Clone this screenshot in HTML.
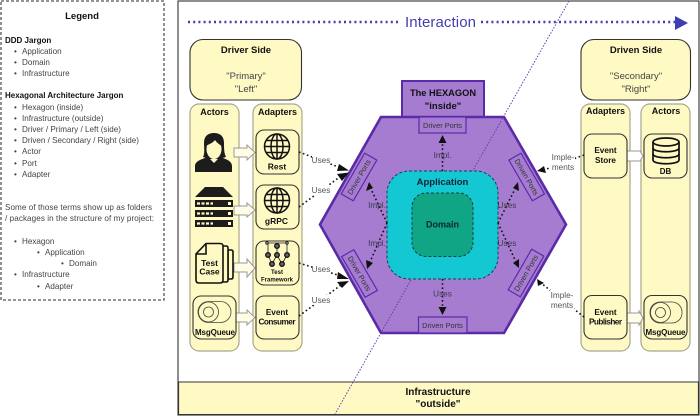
<!DOCTYPE html>
<html><head><meta charset="utf-8"><style>
html,body{margin:0;padding:0;background:#fff}
svg{display:block}
text{font-family:"Liberation Sans",sans-serif;fill:#333}
.b{font-weight:bold;fill:#111}
.l{font-size:8.1px;fill:#444}
.g{font-size:8.2px;fill:#555;text-anchor:middle}
.p{font-size:7.4px;fill:#333;text-anchor:middle}
.m{text-anchor:middle}
.y{fill:#fff9c4;stroke:#a8a890;stroke-width:1.2}
.k{fill:#fff9c4;stroke:#333;stroke-width:1.1}
.d{fill:none;stroke:#111;stroke-width:1.6;stroke-dasharray:1.6 2.6}
.ar{fill:#111}
.o{fill:#fffde6;stroke:#999;stroke-width:1}
.pb{fill:#a67cd0;stroke:#5a2ba8;stroke-width:1.2}
.gl{fill:none;stroke:#111;stroke-width:1.5}
</style></head><body>
<svg width="700" height="416" viewBox="0 0 700 416" xmlns="http://www.w3.org/2000/svg">
<rect width="700" height="416" fill="#fff"/>
<!-- Legend -->
<rect x="1" y="1" width="163" height="299" fill="#fff" stroke="#555" stroke-width="1.3" stroke-dasharray="3 2"/>
<text x="82" y="19" class="b m" font-size="9.5">Legend</text>
<text x="5" y="43" class="b" font-size="8">DDD Jargon</text>
<text x="5" y="98" class="b" font-size="8">Hexagonal Architecture Jargon</text>
<text x="14" y="54" class="l">•</text><text x="22" y="54" class="l">Application</text>
<text x="14" y="65" class="l">•</text><text x="22" y="65" class="l">Domain</text>
<text x="14" y="76" class="l">•</text><text x="22" y="76" class="l">Infrastructure</text>
<text x="14" y="110" class="l">•</text><text x="22" y="110" class="l">Hexagon (inside)</text>
<text x="14" y="121" class="l">•</text><text x="22" y="121" class="l">Infrastructure (outside)</text>
<text x="14" y="132" class="l">•</text><text x="22" y="132" class="l">Driver / Primary / Left (side)</text>
<text x="14" y="143" class="l">•</text><text x="22" y="143" class="l">Driven / Secondary / Right (side)</text>
<text x="14" y="154" class="l">•</text><text x="22" y="154" class="l">Actor</text>
<text x="14" y="166" class="l">•</text><text x="22" y="166" class="l">Port</text>
<text x="14" y="177" class="l">•</text><text x="22" y="177" class="l">Adapter</text>
<text x="5" y="210" class="l" textLength="147">Some of those terms show up as folders</text>
<text x="5" y="221" class="l" textLength="149">/ packages in the structure of my project:</text>
<text x="14" y="244" class="l">•</text><text x="22" y="244" class="l">Hexagon</text>
<text x="37" y="255" class="l">•</text><text x="45" y="255" class="l">Application</text>
<text x="61" y="266" class="l">•</text><text x="69" y="266" class="l">Domain</text>
<text x="14" y="277" class="l">•</text><text x="22" y="277" class="l">Infrastructure</text>
<text x="37" y="289" class="l">•</text><text x="45" y="289" class="l">Adapter</text>
<!-- Frame -->
<rect x="178" y="1" width="521" height="414" fill="#fff" stroke="#444" stroke-width="1.2"/>
<rect x="178.600" y="382" width="519.800" height="32.500" fill="#fff9c4" stroke="#333" stroke-width="1"/>
<text x="438" y="395" class="b m" font-size="10">Infrastructure</text>
<text x="438" y="407" class="b m" font-size="10">"outside"</text>
<!-- Interaction -->
<line x1="188" y1="22" x2="400" y2="22" stroke="#3f3fb0" stroke-width="2.4" stroke-dasharray="2 3.2"/>
<text x="405" y="27" font-size="15" style="fill:#3f3fb0" textLength="71">Interaction</text>
<line x1="481" y1="22" x2="676" y2="22" stroke="#3f3fb0" stroke-width="2.4" stroke-dasharray="2 3.2"/>
<polygon points="675,16 688,23 675,30" fill="#3f3fb0"/>
<!-- Driver side -->
<rect x="190" y="39.500" width="111.500" height="60.500" rx="13" fill="#fff9c4" stroke="#333" stroke-width="1.100"/>
<text x="246" y="53" class="b m" font-size="9.500">Driver Side</text>
<text x="246" y="79" class="m" font-size="9.500" style="fill:#444">"Primary"</text>
<text x="246" y="92" class="m" font-size="9.500" style="fill:#444">"Left"</text>
<rect x="190" y="104" width="49" height="247" rx="9" class="y"/>
<rect x="253" y="104" width="49" height="247" rx="9" class="y"/>
<text x="214.500" y="115" class="b m" font-size="9">Actors</text>
<text x="277.500" y="115" class="b m" font-size="9">Adapters</text>
<!-- driver arrows -->
<g class="o">
<polygon points="234,148 247,148 247,145 255,152.500 247,160 247,157 234,157"/>
<polygon points="234,206 247,206 247,203 255,210 247,217 247,215 234,215"/>
<polygon points="234,263 247,263 247,259 255,268 247,277 247,272 234,272"/>
<polygon points="234,313 247,313 247,310 255,317.500 247,325 247,322 234,322"/>
</g>
<!-- person -->
<path d="M195,172 L195,166 C195,161 202,159 208,157 L214,163 L220,157 C226,159 232,161 232,166 L232,172 Z" fill="#1c1c1c"/>
<path d="M203,157 C205,153 204,148 204,143 C204,136 208,133 214,133 C220,133 224,136 224,143 C224,148 224,153 226,157 L219,159 L209,159 Z" fill="#1c1c1c"/>
<ellipse cx="214" cy="149" rx="7.500" ry="10" fill="#fff9c4"/>
<path d="M206,146 C209,144 213,143 215,140 C217,143 220,145 222,146 L222,139 L206,139 Z" fill="#1c1c1c"/>
<!-- server -->
<polygon points="195,197 205,187 223,187 233,197" fill="#1c1c1c"/>
<g fill="#1c1c1c">
<rect x="195" y="200" width="38" height="7"/><rect x="195" y="210" width="38" height="7"/><rect x="195" y="220" width="38" height="7"/>
</g>
<g stroke="#fff9c4" stroke-width="2.200" stroke-dasharray="3 1.500">
<line x1="197" y1="203.500" x2="213" y2="203.500"/><line x1="197" y1="213.500" x2="213" y2="213.500"/><line x1="197" y1="223.500" x2="213" y2="223.500"/>
</g>
<g fill="#fff9c4"><rect x="228" y="202" width="3" height="3"/><rect x="228" y="212" width="3" height="3"/><rect x="228" y="222" width="3" height="3"/></g>
<!-- test case -->
<g fill="#fff9c4" stroke="#111" stroke-width="1.600">
<path d="M228,250 L231,250 Q233,250 233,252 L233,277 Q233,279 231,279 L228,279 Z"/>
<path d="M222,246 L226,246 Q228,246 228,248 L228,280 Q228,282 226,282 L222,282 Z"/>
<path d="M206,243.500 L220,243.500 Q223,243.500 223,246 L223,280 Q223,283 220,283 L199,283 Q196,283 196,280 L196,254 Z"/>
<path d="M206,243.500 L206,254 L196,254" fill="none"/>
</g>
<text x="209.500" y="266" class="b m" font-size="8.500">Test</text>
<text x="209.500" y="274.500" class="b m" font-size="8.500">Case</text>
<!-- msgqueue left -->
<rect x="193" y="296" width="43" height="43" rx="8" class="k"/>
<rect x="198" y="301.500" width="33" height="21" rx="10.500" fill="none" stroke="#444" stroke-width=".8"/>
<circle cx="208.500" cy="312" r="10" fill="#fff9c4" stroke="#444" stroke-width=".8"/><circle cx="208.500" cy="312" r="5" fill="none" stroke="#444" stroke-width=".8"/>
<text x="215" y="335" class="b m" font-size="8" textLength="40">MsgQueue</text>
<!-- adapters left -->
<rect x="256" y="130" width="43" height="44" rx="8" class="k"/>
<rect x="256" y="185" width="43" height="44" rx="8" class="k"/>
<rect x="256" y="241" width="43" height="44" rx="8" class="k"/>
<rect x="256" y="296" width="43" height="43" rx="8" class="k"/>
<g class="gl">
<circle cx="277" cy="146.500" r="12.500"/><ellipse cx="277" cy="146.500" rx="6" ry="12.500"/><line x1="277" y1="134" x2="277" y2="159"/><line x1="264.500" y1="146.500" x2="289.500" y2="146.500"/><path d="M266,140.500 H288 M266,152.500 H288"/>
</g>
<g class="gl" transform="translate(0,54)">
<circle cx="277" cy="146.500" r="12.500"/><ellipse cx="277" cy="146.500" rx="6" ry="12.500"/><line x1="277" y1="134" x2="277" y2="159"/><line x1="264.500" y1="146.500" x2="289.500" y2="146.500"/><path d="M266,140.500 H288 M266,152.500 H288"/>
</g>
<text x="277" y="169.500" class="b m" font-size="8.500">Rest</text>
<text x="276.500" y="224" class="b m" font-size="8.500">gRPC</text>
<!-- nn -->
<g stroke="#222" stroke-width=".8" fill="none"><path d="M267,243 H287 M268,243 V255 M277,245 V255 M287,243 V255 M268,255 L272,264 M277,255 L272,264 M277,255 L282,264 M287,255 L282,264"/></g>
<g fill="#fff9c4" stroke="#111" stroke-width="1"><circle cx="267" cy="243" r="1.200"/><circle cx="287" cy="243" r="1.200"/></g>
<g fill="#666" stroke="#111" stroke-width="1.300"><circle cx="277" cy="246" r="2.300"/><circle cx="268" cy="255" r="2.300"/><circle cx="277" cy="255" r="2.300"/><circle cx="287" cy="255" r="2.300"/><circle cx="272" cy="264" r="2.300"/><circle cx="282" cy="264" r="2.300"/></g>
<text x="277" y="274" class="b m" font-size="6">Test</text>
<text x="277" y="281.500" class="b m" font-size="6" textLength="32">Framework</text>
<text x="277" y="315" class="b m" font-size="8.200">Event</text>
<text x="277" y="324.500" class="b m" font-size="8.200" textLength="37">Consumer</text>
<!-- Driven side -->
<rect x="581" y="39.500" width="109.500" height="60.500" rx="13" fill="#fff9c4" stroke="#333" stroke-width="1.100"/>
<text x="636" y="53" class="b m" font-size="9.500">Driven Side</text>
<text x="636" y="79" class="m" font-size="9.500" style="fill:#444">"Secondary"</text>
<text x="636" y="92" class="m" font-size="9.500" style="fill:#444">"Right"</text>
<rect x="581" y="104" width="49" height="247" rx="9" class="y"/>
<rect x="641" y="104" width="49" height="247" rx="9" class="y"/>
<text x="605.500" y="114" class="b m" font-size="9">Adapters</text>
<text x="666" y="114" class="b m" font-size="9">Actors</text>
<g class="o">
<polygon points="627,151 640,151 643,156 640,161 627,161" fill="#fff"/>
<polygon points="627,313 639,313 639,311 643,318 639,325 639,323 627,323"/>
</g>
<rect x="584" y="134" width="43" height="44" rx="8" class="k"/>
<rect x="644" y="134" width="43" height="44" rx="8" class="k"/>
<rect x="584" y="295.500" width="43" height="43.500" rx="8" class="k"/>
<rect x="644" y="295.500" width="43" height="43.500" rx="8" class="k"/>
<text x="605.500" y="153" class="b m" font-size="8.200">Event</text>
<text x="605.500" y="163" class="b m" font-size="8.200">Store</text>
<text x="605.500" y="315" class="b m" font-size="8.200">Event</text>
<text x="605.500" y="324.500" class="b m" font-size="8.200" textLength="33">Publisher</text>
<g fill="none" stroke="#111" stroke-width="1.700">
<ellipse cx="666" cy="142" rx="13" ry="4"/>
<path d="M653,142 V160 C653,165 679,165 679,160 V142"/>
<path d="M653,148 C653,153 679,153 679,148 M653,154 C653,159 679,159 679,154"/>
</g>
<text x="665.500" y="174" class="b m" font-size="8">DB</text>
<rect x="650" y="302" width="32" height="21" rx="10" fill="none" stroke="#444" stroke-width=".8"/>
<circle cx="660.500" cy="312.500" r="10" fill="#fff9c4" stroke="#444" stroke-width=".8"/><circle cx="660.500" cy="312.500" r="5" fill="none" stroke="#444" stroke-width=".8"/>
<text x="665.500" y="335" class="b m" font-size="8" textLength="40">MsgQueue</text>
<!-- Hexagon top tab -->
<rect x="402" y="81" width="82" height="36" fill="#a67cd0" stroke="#5a2ba8" stroke-width="2"/>
<text x="443" y="96" class="b m" font-size="9.300">The HEXAGON</text>
<text x="443" y="109" class="b m" font-size="9.500">"inside"</text>
<polygon points="381,117 504,117 566,224.500 504,333 381,333 320,224.500" fill="#a67cd0" stroke="#5a2ba8" stroke-width="2.600" stroke-linejoin="miter"/>
<!-- diagonal -->
<line x1="569" y1="1" x2="335" y2="414" stroke="#6a3ab0" stroke-width="1" stroke-dasharray="1.500 1.500"/>
<!-- application -->
<rect x="387" y="171" width="111" height="108" rx="22" fill="#13c8d2" stroke="#173f4f" stroke-width="1" stroke-dasharray="3 2"/>
<text x="442.500" y="185" class="b m" font-size="9.500" style="fill:#123">Application</text>
<rect x="412" y="193" width="61" height="63.500" rx="14" fill="#10a585" stroke="#173f3f" stroke-width="1" stroke-dasharray="3 2"/>
<text x="442.500" y="227.500" class="b m" font-size="9" style="fill:#123">Domain</text>
<!-- ports -->
<rect x="419" y="117" width="47" height="16" class="pb"/>
<text x="442.500" y="128" class="p">Driver Ports</text>
<rect x="418.500" y="317" width="48.500" height="16" class="pb"/>
<text x="442.500" y="328" class="p">Driven Ports</text>
<g transform="translate(359,177) rotate(-60)"><rect x="-23.500" y="-7" width="47" height="14" class="pb"/><text y="2.700" class="p">Driver Ports</text></g>
<g transform="translate(359.500,273.500) rotate(60)"><rect x="-23.500" y="-7" width="47" height="14" class="pb"/><text y="2.700" class="p">Driver Ports</text></g>
<g transform="translate(526.700,177) rotate(60)"><rect x="-23.500" y="-7" width="47" height="14" class="pb"/><text y="2.700" class="p">Driven Ports</text></g>
<g transform="translate(526,273) rotate(-60)"><rect x="-23.500" y="-7" width="47" height="14" class="pb"/><text y="2.700" class="p">Driven Ports</text></g>
<!-- connectors -->
<g class="d">
<path d="M299,152 L341,168"/>
<path d="M299,207 L341,176"/>
<path d="M299,263 L341,276"/>
<path d="M299,316 L341,285"/>
<path d="M442.500,171 V142"/>
<path d="M387,223 L371,189"/>
<path d="M387,223 L370,262"/>
<path d="M498,223 L515,189"/>
<path d="M498,223 L516,262"/>
<path d="M442.500,279 V307"/>
<path d="M584,155 L544,170"/>
<path d="M584,317 L541,283"/>
</g>
<g class="ar">
<polygon points="442.500,135 438.500,143 446.500,143"/>
<polygon points="442.500,315 438.500,307 446.500,307"/>
<polygon points="369,182 366,191 373,188"/>
<polygon points="367,269 366,260 373,263"/>
<polygon points="518,182 513,188 519,191"/>
<polygon points="519,268 513,263 519,259"/>
<polygon points="349,170.500 339,164 337,171"/>
<polygon points="349,172.500 337,174 342,181"/>
<polygon points="349,279 338,272 337,279"/>
<polygon points="349,281 337,282 342,288"/>
<polygon points="537,171 544,166 546,173"/>
<polygon points="537,279 538,286 544,283"/>
</g>
<!-- labels -->
<rect x="312" y="155" width="18" height="10" fill="#fff"/><text x="321" y="163" class="g">Uses</text>
<rect x="312" y="185" width="18" height="10" fill="#fff"/><text x="321" y="193" class="g">Uses</text>
<rect x="312" y="264" width="18" height="10" fill="#fff"/><text x="321" y="272" class="g">Uses</text>
<rect x="312" y="295" width="18" height="10" fill="#fff"/><text x="321" y="303" class="g">Uses</text>
<text x="442.500" y="158" class="g" style="fill:#3a3a4a">Impl.</text>
<text x="377" y="208" class="g" style="fill:#3a3a4a">Impl.</text>
<text x="377" y="246" class="g" style="fill:#3a3a4a">Impl.</text>
<text x="507" y="208" class="g" style="fill:#3a3a4a">Uses</text>
<text x="507" y="246" class="g" style="fill:#3a3a4a">Uses</text>
<text x="442.500" y="296.500" class="g" style="fill:#3a3a4a">Uses</text>
<rect x="551" y="152" width="24" height="20" fill="#fff"/>
<text x="563" y="160" class="g">Imple-</text><text x="563" y="170" class="g">ments</text>
<rect x="550" y="290" width="24" height="21" fill="#fff"/>
<text x="562" y="298" class="g">Imple-</text><text x="562" y="308" class="g">ments</text>
</svg>
</body></html>
